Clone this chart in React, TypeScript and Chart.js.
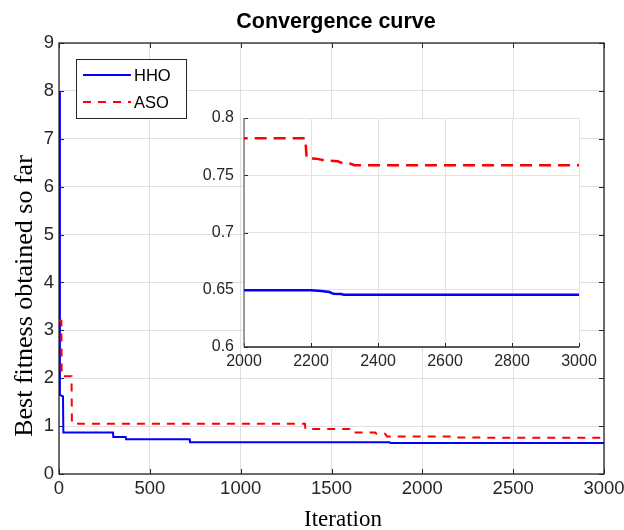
import React, { useEffect, useRef } from "react";
import { Chart, registerables } from "chart.js";

Chart.register(...registerables);

// ---------- data ----------
const SERIES = ["HHO", "ASO"];
const TITLE = "Convergence curve";
const X_LABEL = "Iteration";
const Y_LABEL = "Best fitness obtained so far";

const X_TICKS = [0, 500, 1000, 1500, 2000, 2500, 3000];
const Y_TICKS = [0, 1, 2, 3, 4, 5, 6, 7, 8, 9];
const INSET_X_TICKS = [2000, 2200, 2400, 2600, 2800, 3000];
const INSET_Y_TICKS = [0.6, 0.65, 0.7, 0.75, 0.8];

const HHO_ITER = [0, 5, 22, 24, 297, 299, 367, 369, 719, 721, 1819, 1823, 2200, 2230, 2255, 2262, 2268, 2290, 2298, 3000];
const HHO_FIT = [8.0, 1.65, 1.62, 0.868, 0.868, 0.774, 0.774, 0.728, 0.728, 0.665, 0.665, 0.6495, 0.6495, 0.649, 0.648, 0.647, 0.6465, 0.6462, 0.6457, 0.6457];

const ASO_ITER = [0, 13, 15, 69, 71, 103, 105, 1354, 1356, 1598, 1605, 1740, 1748, 1795, 1805, 2183, 2187, 2215, 2240, 2280, 2295, 2318, 2330, 3000];
const ASO_FIT = [3.2, 3.2, 2.04, 2.04, 1.07, 1.07, 1.047, 1.047, 0.941, 0.941, 0.864, 0.864, 0.84, 0.84, 0.7823, 0.7823, 0.7648, 0.7645, 0.763, 0.7622, 0.7604, 0.76, 0.7587, 0.7587];

const COLORS = ["#0000ff", "#ff0000"];
const SANS = "'Liberation Sans', Arial, Helvetica, sans-serif";
const SERIF = "'Liberation Serif', 'Times New Roman', serif";
const AXIS_COLOR = "#262626";

function makeDatasets(lw: number, dash: number[]) {
  return [
    {
      label: SERIES[0],
      data: HHO_ITER.map((x, i) => ({ x, y: HHO_FIT[i] })),
      borderColor: COLORS[0],
      backgroundColor: COLORS[0],
      borderWidth: lw,
      pointRadius: 0,
      tension: 0,
      fill: false,
      order: 1,
    },
    {
      label: SERIES[1],
      data: ASO_ITER.map((x, i) => ({ x, y: ASO_FIT[i] })),
      borderColor: COLORS[1],
      backgroundColor: COLORS[1],
      borderWidth: lw,
      borderDash: dash,
      pointRadius: 0,
      tension: 0,
      fill: false,
      order: 0,
    },
  ];
}

function zeroPad(s: any) {
  s.paddingLeft = 0;
  s.paddingRight = 0;
  s.paddingTop = 0;
  s.paddingBottom = 0;
}

// frame with inward ticks
function axesPlugin(xt: number[], yt: number[], box: boolean, tl: number, leftColor: string) {
  return {
    id: "axesFrame",
    beforeDraw(chart: any) {
      if (box) return;
      const { ctx, chartArea: a } = chart;
      ctx.save();
      ctx.fillStyle = "#ffffff";
      ctx.fillRect(a.left, a.top, a.right - a.left, a.bottom - a.top);
      ctx.restore();
    },
    beforeDatasetsDraw(chart: any) {
      const { ctx, chartArea: a, scales } = chart;
      ctx.save();
      ctx.lineWidth = 1;
      ctx.strokeStyle = AXIS_COLOR;
      ctx.beginPath();
      for (const v of xt) {
        const x = Math.round(scales.x.getPixelForValue(v)) + 0.5;
        ctx.moveTo(x, a.bottom);
        ctx.lineTo(x, a.bottom - tl);
        if (box) {
          ctx.moveTo(x, a.top);
          ctx.lineTo(x, a.top + tl);
        }
      }
      for (const v of yt) {
        const y = Math.round(scales.y.getPixelForValue(v)) + 0.5;
        ctx.moveTo(a.left, y);
        ctx.lineTo(a.left + tl, y);
        if (box) {
          ctx.moveTo(a.right, y);
          ctx.lineTo(a.right - tl, y);
        }
      }
      ctx.stroke();
      ctx.lineWidth = 1.3;
      if (box) {
        ctx.strokeRect(a.left, a.top, a.right - a.left, a.bottom - a.top);
      } else {
        ctx.beginPath();
        ctx.moveTo(a.left, a.bottom);
        ctx.lineTo(a.right, a.bottom);
        ctx.stroke();
        ctx.strokeStyle = leftColor;
        ctx.beginPath();
        ctx.moveTo(a.left, a.top);
        ctx.lineTo(a.left, a.bottom);
        ctx.stroke();
      }
      ctx.restore();
    },
  };
}

const labelsPlugin = {
  id: "labelsLegend",
  afterDatasetsDraw(chart: any) {
    const { ctx, chartArea: a } = chart;
    ctx.save();
    // legend box
    const bx = a.left + 17;
    const by = a.top + 16;
    const bw = 110;
    const bh = 59;
    ctx.fillStyle = "#ffffff";
    ctx.fillRect(bx, by, bw, bh);
    ctx.strokeStyle = AXIS_COLOR;
    ctx.lineWidth = 1;
    ctx.strokeRect(bx + 0.5, by + 0.5, bw, bh);
    ctx.font = `16.5px ${SANS}`;
    ctx.textBaseline = "middle";
    ctx.textAlign = "left";
    SERIES.forEach((name, i) => {
      const y = by + 16 + i * 27;
      ctx.strokeStyle = COLORS[i];
      ctx.lineWidth = 2;
      ctx.setLineDash(i === 1 ? [8, 7] : []);
      ctx.beginPath();
      ctx.moveTo(bx + 7, y);
      ctx.lineTo(bx + 55, y);
      ctx.stroke();
      ctx.setLineDash([]);
      ctx.fillStyle = "#000000";
      ctx.fillText(name, bx + 58, y + 1);
    });
    ctx.restore();
  },
  afterDraw(chart: any) {
    const { ctx } = chart;
    ctx.save();
    ctx.fillStyle = "#000000";
    ctx.textAlign = "center";
    ctx.textBaseline = "alphabetic";
    ctx.font = `bold 21.5px ${SANS}`;
    ctx.fillText(TITLE, 336, 28);
    ctx.font = `23px ${SERIF}`;
    ctx.fillText(X_LABEL, 343, 526);
    ctx.translate(32, 296);
    ctx.rotate(-Math.PI / 2);
    ctx.font = `26px ${SERIF}`;
    ctx.fillText(Y_LABEL, 0, 0);
    ctx.restore();
  },
};

export default function App() {
  const mainRef = useRef<HTMLCanvasElement>(null);
  const insetRef = useRef<HTMLCanvasElement>(null);

  useEffect(() => {
    const main = new Chart(mainRef.current as HTMLCanvasElement, {
      type: "line",
      data: { datasets: makeDatasets(2, [8, 7]) as any },
      options: {
        animation: false,
        responsive: false,
        devicePixelRatio: 1,
        layout: { padding: { top: 43, right: 20, left: 0, bottom: 0 } },
        plugins: { legend: { display: false }, tooltip: { enabled: false }, title: { display: false } },
        scales: {
          x: {
            type: "linear",
            min: 0,
            max: 3000,
            afterBuildTicks: (s: any) => {
              s.ticks = X_TICKS.map((v) => ({ value: v }));
            },
            afterFit: (s: any) => {
              s.height = 56;
              zeroPad(s);
            },
            ticks: {
              font: { family: SANS, size: 18.5 },
              color: AXIS_COLOR,
              padding: 4,
              maxRotation: 0,
              autoSkip: false,
              callback: (v: any) => String(v),
            },
            grid: { color: "#dfdfdf", lineWidth: 1, drawTicks: false },
            border: { display: false },
          },
          y: {
            type: "linear",
            min: 0,
            max: 9,
            afterBuildTicks: (s: any) => {
              s.ticks = Y_TICKS.map((v) => ({ value: v }));
            },
            afterFit: (s: any) => {
              s.width = 59;
              zeroPad(s);
            },
            ticks: {
              font: { family: SANS, size: 18.5 },
              color: AXIS_COLOR,
              padding: 5,
              autoSkip: false,
              callback: (v: any) => String(v),
            },
            grid: { color: "#dfdfdf", lineWidth: 1, drawTicks: false },
            border: { display: false },
          },
        },
      },
      plugins: [axesPlugin(X_TICKS, Y_TICKS, true, 5, AXIS_COLOR), labelsPlugin],
    } as any);

    const inset = new Chart(insetRef.current as HTMLCanvasElement, {
      type: "line",
      data: { datasets: makeDatasets(2.5, [12, 7]) as any },
      options: {
        animation: false,
        responsive: false,
        devicePixelRatio: 1,
        layout: { padding: { top: 18, right: 31, left: 0, bottom: 0 } },
        plugins: { legend: { display: false }, tooltip: { enabled: false }, title: { display: false } },
        scales: {
          x: {
            type: "linear",
            min: 2000,
            max: 3000,
            afterBuildTicks: (s: any) => {
              s.ticks = INSET_X_TICKS.map((v) => ({ value: v }));
            },
            afterFit: (s: any) => {
              s.height = 38;
              zeroPad(s);
            },
            ticks: {
              font: { family: SANS, size: 16 },
              color: AXIS_COLOR,
              padding: 5,
              maxRotation: 0,
              autoSkip: false,
              callback: (v: any) => String(v),
            },
            grid: { color: "#e3e3e3", lineWidth: 1, drawTicks: false },
            border: { display: false },
          },
          y: {
            type: "linear",
            min: 0.6,
            max: 0.8,
            afterBuildTicks: (s: any) => {
              s.ticks = INSET_Y_TICKS.map((v) => ({ value: v }));
            },
            afterFit: (s: any) => {
              s.width = 54;
              zeroPad(s);
            },
            ticks: {
              font: { family: SANS, size: 16 },
              color: AXIS_COLOR,
              padding: 10,
              autoSkip: false,
              callback: (v: any) => String(v),
            },
            grid: { color: "#e3e3e3", lineWidth: 1, drawTicks: false },
            border: { display: false },
          },
        },
      },
      plugins: [axesPlugin(INSET_X_TICKS, INSET_Y_TICKS, false, 4, "#6e6e6e")],
    } as any);

    return () => {
      main.destroy();
      inset.destroy();
    };
  }, []);

  return (
    <div style={{ position: "absolute", left: 0, top: 0, width: 624, height: 530, background: "#ffffff" }}>
      <canvas ref={mainRef} width={624} height={530} style={{ position: "absolute", left: 0, top: 0 }} />
      <canvas ref={insetRef} width={420} height={285} style={{ position: "absolute", left: 190, top: 100 }} />
    </div>
  );
}
